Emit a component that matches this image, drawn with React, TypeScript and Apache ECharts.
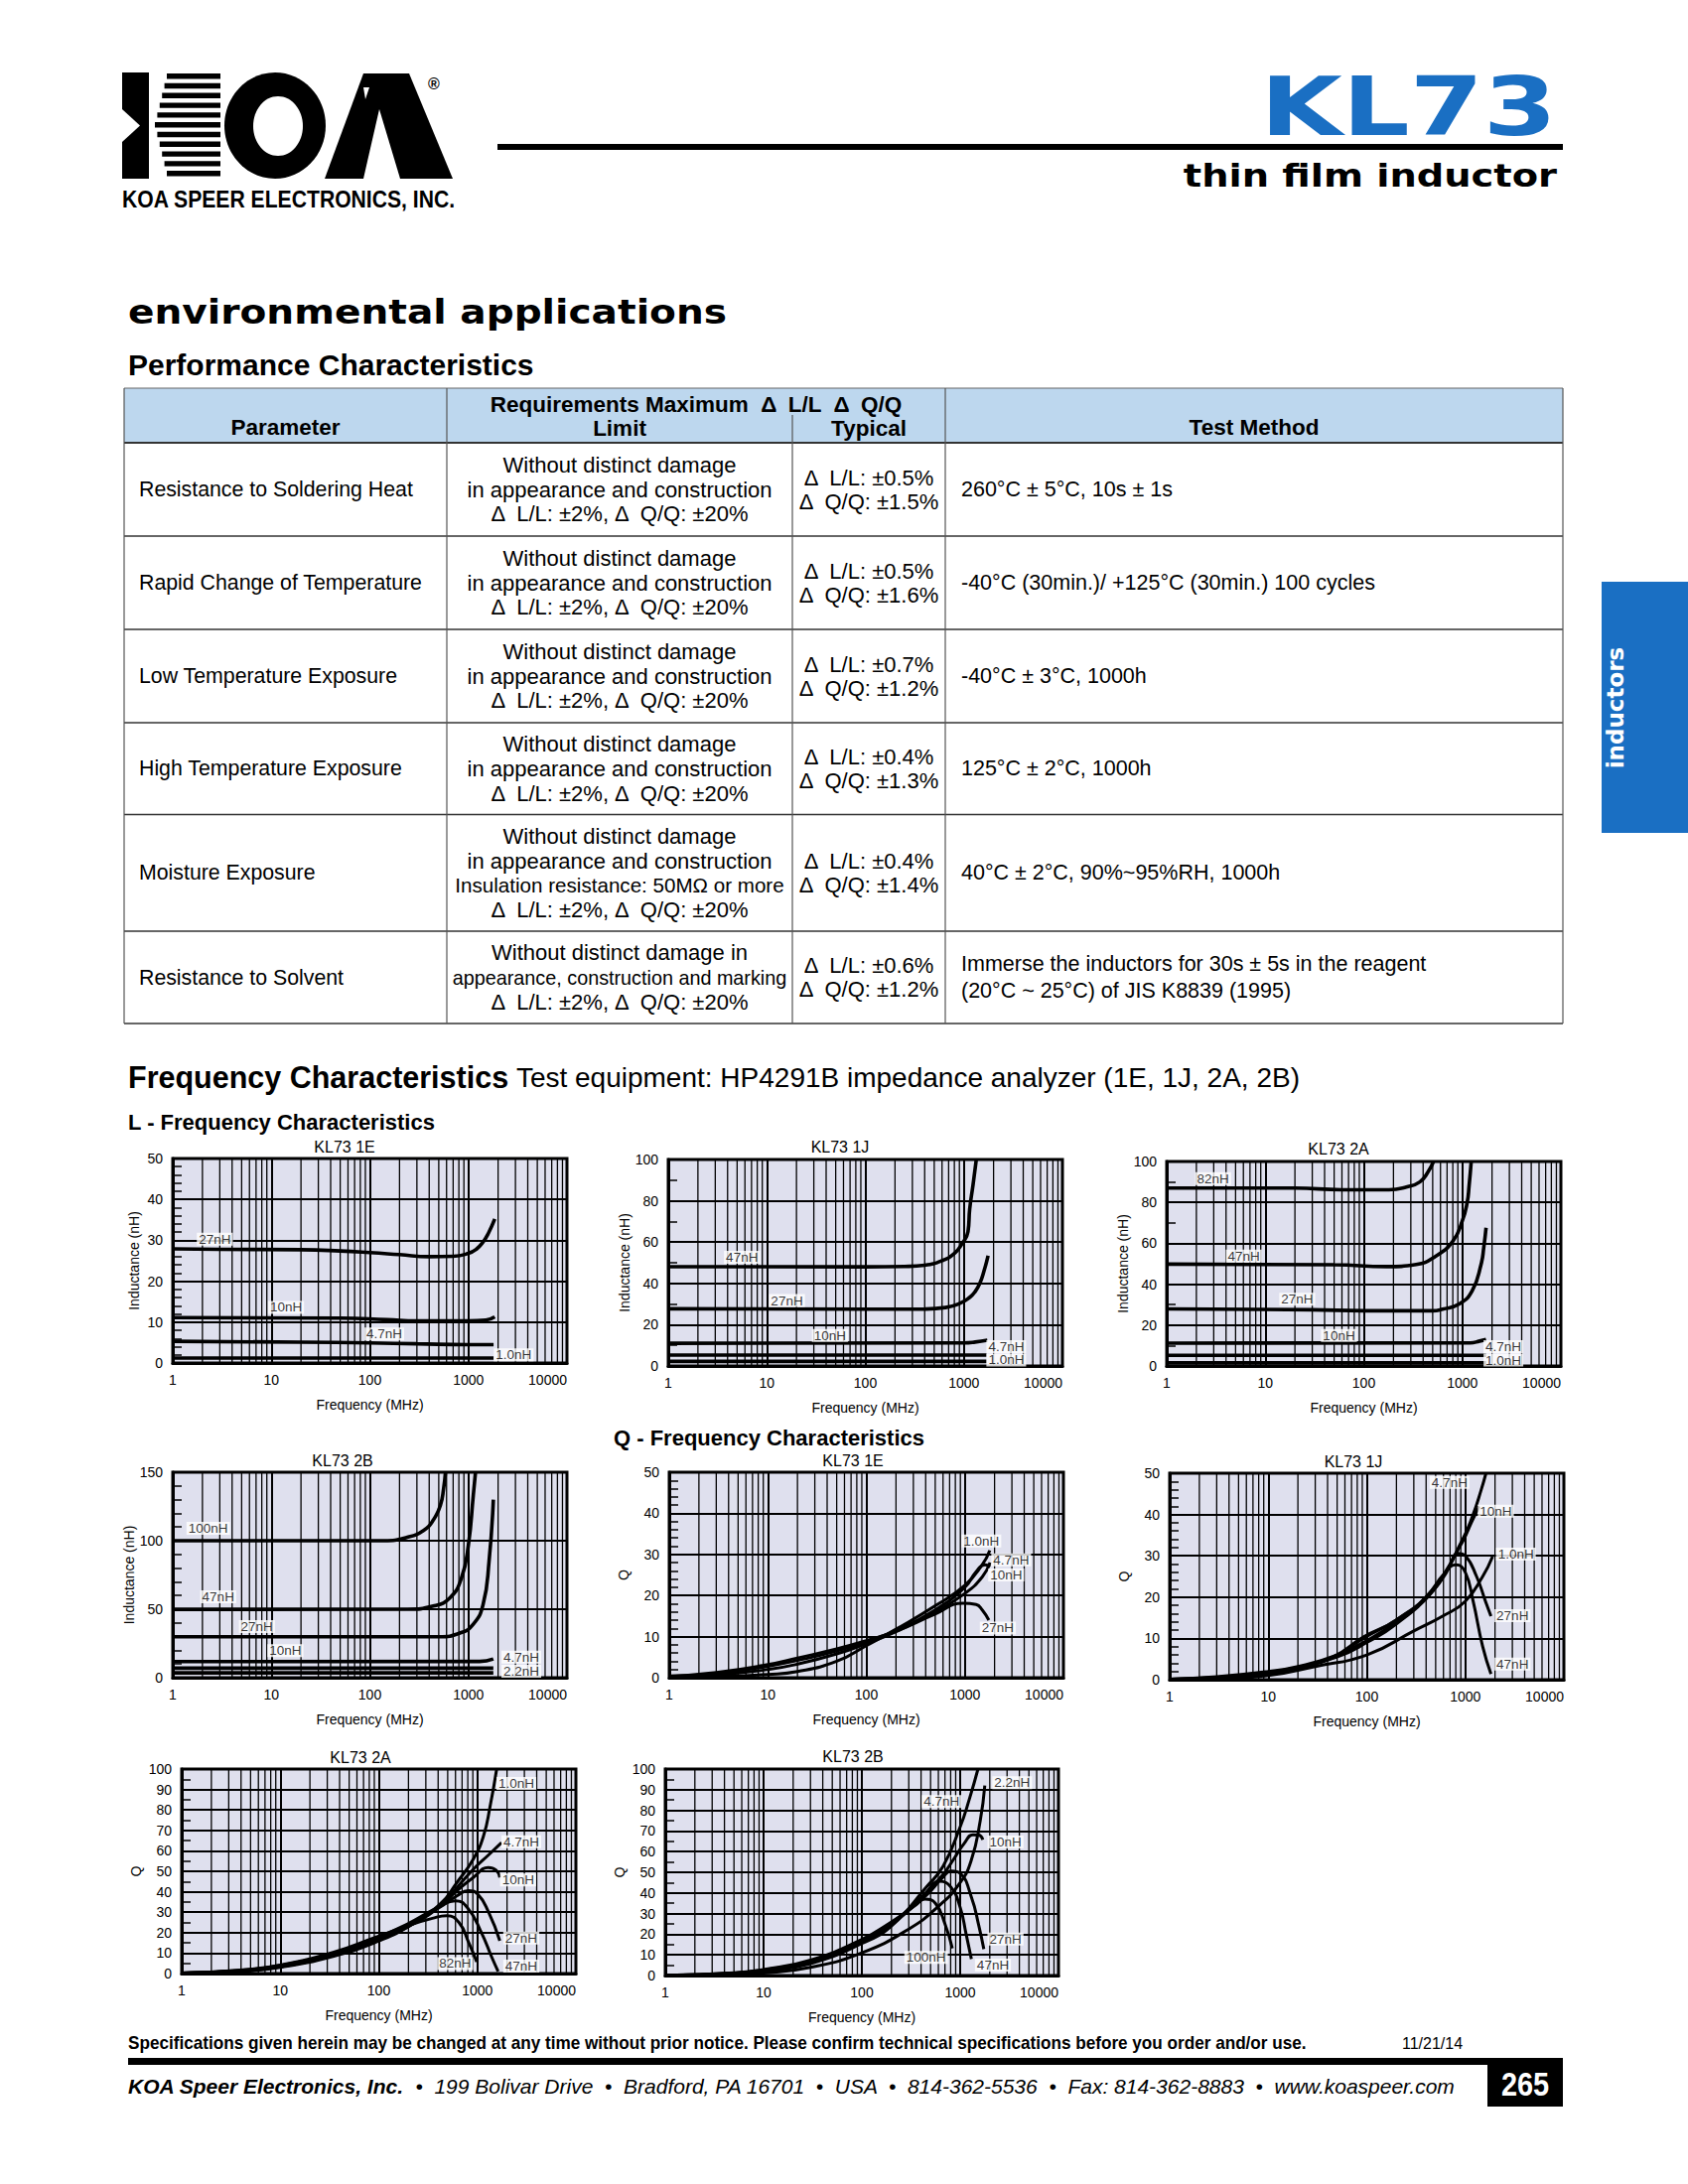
import React, { useEffect, useRef } from "react";
import * as echarts from "echarts";

const FONT = "'Liberation Sans', Arial, Helvetica, sans-serif";
const GEO = "'DejaVu Sans', Verdana, sans-serif";

// ---------- frequency axis ----------
const FREQ_MIN = 1;
const FREQ_MAX = 10000;
const MINOR_FREQS = [2, 3, 4, 5, 6, 7, 8, 9, 20, 30, 40, 50, 60, 70, 80, 90, 200, 300, 400, 500, 600, 700, 800, 900, 2000, 3000, 4000, 5000, 6000, 7000, 8000, 9000];

// ---------- L - frequency : KL73 1E ----------
const L1E_27 = [[1, 27.9], [3, 27.8], [20, 27.7], [50, 27.4], [100, 27.0], [200, 26.5], [400, 26.0], [700, 26.1], [1000, 26.8], [1200, 27.8], [1400, 29.5], [1600, 31.8], [1850, 35.2]];
const L1E_10 = [[1, 11.1], [50, 11.0], [150, 10.6], [300, 10.3], [1000, 10.3], [1500, 10.5], [1850, 11.3]];
const L1E_4_7 = [[1, 5.3], [20, 5.1], [100, 4.9], [300, 4.7], [1000, 4.5], [1800, 4.5]];
const L1E_1_0 = [[1, 1.2], [1800, 1.2]];
const L1E_LABELS = [["27nH", 2.67, 30.3], ["10nH", 14.1, 13.6], ["4.7nH", 140, 7.1], ["1.0nH", 2880, 2.0]];

// ---------- L - frequency : KL73 1J ----------
const L1J_47 = [[1, 48.1], [100, 48.0], [250, 48.2], [400, 48.8], [600, 51], [800, 54.5], [950, 59], [1100, 65], [1145, 76], [1240, 88], [1336, 100]];
const L1J_27 = [[1, 27.7], [100, 27.5], [400, 27.6], [650, 28.3], [900, 30.2], [1150, 33.3], [1300, 36], [1450, 40], [1600, 46], [1760, 53.4]];
const L1J_10 = [[1, 11.0], [1000, 11.2], [1300, 11.6], [1730, 12.5]];
const L1J_4_7 = [[1, 5.3], [1700, 5.3]];
const L1J_1_0 = [[1, 2.2], [1700, 2.2]];
const L1J_LABELS = [["47nH", 5.6, 52.6], ["27nH", 16, 31.7], ["10nH", 43.7, 14.8], ["4.7nH", 2690, 9.4], ["1.0nH", 2690, 2.9]];

// ---------- L - frequency : KL73 2A ----------
const L2A_82 = [[1, 87], [20, 87], [60, 86.2], [180, 86.2], [270, 87.5], [370, 90], [450, 95], [510, 100]];
const L2A_47 = [[1, 49.8], [50, 49.5], [170, 48.6], [340, 49.6], [540, 53.8], [800, 61], [1000, 71], [1120, 80], [1170, 88], [1230, 100]];
const L2A_27 = [[1, 27.9], [30, 27.5], [100, 27], [500, 27], [630, 27.8], [930, 30.3], [1260, 36.8], [1550, 49.8], [1650, 58], [1740, 67.6]];
const L2A_10 = [[1, 11.2], [1200, 11.3], [1500, 12.2], [1740, 13]];
const L2A_4_7 = [[1, 5.2], [1740, 5.2]];
const L2A_1_0 = [[1, 1.5], [1740, 1.5]];
const L2A_LABELS = [["82nH", 2.95, 91.6], ["47nH", 6.06, 53.8], ["27nH", 21.1, 32.7], ["10nH", 56, 14.9], ["4.7nH", 2610, 9.5], ["1.0nH", 2610, 2.9]];

// ---------- L - frequency : KL73 2B ----------
const L2B_100 = [[1, 100], [140, 100], [240, 102.5], [350, 107.5], [440, 115], [520, 126], [560, 138], [585, 150]];
const L2B_47 = [[1, 49.9], [240, 50], [440, 52.3], [650, 58.4], [850, 72.8], [1000, 97], [1120, 133], [1180, 150]];
const L2B_27 = [[1, 29.9], [500, 29.9], [820, 32.6], [1120, 39], [1410, 53.5], [1620, 85], [1790, 130]];
const L2B_10 = [[1, 11.8], [1300, 11.9], [1790, 13.7]];
const L2B_4_7 = [[1, 7.0], [1790, 7.0]];
const L2B_2_2 = [[1, 3.5], [1790, 3.5]];
const L2B_LABELS = [["100nH", 2.29, 109], ["47nH", 2.89, 59], ["27nH", 7.14, 37.4], ["10nH", 13.9, 19.8], ["4.7nH", 3440, 15], ["2.2nH", 3440, 4.8]];

// ---------- Q - frequency : KL73 1E ----------
const Q1E_1_0 = [[1, 0.1], [3, 0.3], [10, 0.8], [20, 1.5], [50, 4], [100, 7.8], [200, 11.8], [500, 17.5], [1000, 22.5], [1500, 27.5], [1790, 31]];
const Q1E_4_7 = [[1, 0.2], [3, 0.7], [10, 2], [20, 3.3], [50, 5.8], [100, 8.3], [200, 11.2], [500, 16], [1000, 20.5], [1500, 24.5], [1800, 28]];
const Q1E_10 = [[1, 0.3], [3, 1], [10, 2.8], [20, 4.2], [50, 6.5], [100, 8.8], [200, 11.5], [500, 16.5], [1000, 22], [1300, 25.8], [1600, 27.5], [1800, 27]];
const Q1E_27 = [[1, 0.4], [3, 1.3], [10, 3.2], [20, 4.8], [50, 7], [100, 9], [200, 11.3], [500, 15.5], [960, 18.1], [1300, 17.8], [1500, 16.5], [1750, 14]];
const Q1E_LABELS = [["1.0nH", 1470, 33.3], ["4.7nH", 2950, 28.7], ["10nH", 2625, 25.0], ["27nH", 2160, 12.1]];

// ---------- Q - frequency : KL73 1J ----------
const Q1J_1_0 = [[1, 0], [3, 0.3], [10, 1], [30, 3.2], [100, 6], [300, 11.8], [600, 15.5], [1000, 19], [1500, 25], [1890, 29.8]];
const Q1J_4_7 = [[1, 0.1], [3, 0.5], [10, 1.5], [20, 2.8], [46, 5.4], [92, 10], [200, 14.5], [470, 21.5], [940, 34], [1200, 40], [1450, 46], [1620, 50]];
const Q1J_10 = [[1, 0.1], [3, 0.5], [10, 1.6], [20, 3], [46, 5.6], [92, 10.3], [200, 14.5], [470, 22], [940, 33.5], [1150, 38], [1380, 42]];
const Q1J_27 = [[1, 0.1], [3, 0.6], [10, 1.8], [20, 3], [50, 5.5], [100, 9], [200, 13.5], [470, 21.5], [700, 28], [840, 30.6], [1000, 30], [1300, 25], [1600, 19], [1820, 15.4]];
const Q1J_47 = [[1, 0.1], [3, 0.7], [10, 2], [20, 3.2], [50, 6], [100, 9.5], [200, 14], [400, 20], [600, 25.5], [808, 27.8], [1000, 26], [1200, 19], [1500, 8], [1820, 1.4]];
const Q1J_LABELS = [["4.7nH", 692, 47.8], ["10nH", 2040, 40.8], ["1.0nH", 3260, 30.4], ["27nH", 3010, 15.5], ["47nH", 3010, 3.8]];

// ---------- Q - frequency : KL73 2A ----------
const Q2A_1_0 = [[1, 0], [4, 1], [10, 3], [35, 8.5], [90, 15], [200, 23], [420, 34], [620, 44.5], [910, 56], [1150, 67], [1350, 82], [1570, 100]];
const Q2A_4_7 = [[1, 0.2], [4, 1.2], [10, 3.3], [35, 9], [90, 15.5], [200, 23], [420, 33], [620, 42], [910, 51], [1300, 58], [1760, 64]];
const Q2A_10 = [[1, 0.2], [4, 1.3], [10, 3.5], [35, 9.3], [90, 16], [200, 23.5], [420, 33], [620, 40.5], [910, 47], [1290, 51.8], [1550, 50.5], [1690, 47]];
const Q2A_27 = [[1, 0.3], [4, 1.5], [10, 3.8], [35, 9.8], [90, 16.5], [200, 24], [420, 32.5], [620, 38], [813, 40.5], [1000, 39], [1300, 30], [1690, 16]];
const Q2A_47 = [[1, 0.3], [4, 1.6], [10, 4], [35, 10], [90, 17], [200, 24.5], [420, 33], [596, 35.6], [800, 32], [1100, 20], [1400, 8], [1625, 1]];
const Q2A_82 = [[1, 0.3], [4, 1.7], [10, 4.2], [35, 10.5], [90, 17.5], [200, 23.5], [350, 27], [490, 28.3], [650, 25], [820, 15], [985, 5.7]];
const Q2A_LABELS = [["1.0nH", 2490, 93], ["4.7nH", 2790, 64.4], ["10nH", 2590, 45.8], ["27nH", 2790, 17.3], ["47nH", 2790, 3.7], ["82nH", 596, 4.9]];

// ---------- Q - frequency : KL73 2B ----------
const Q2B_2_2 = [[1, 0], [5, 0.4], [10, 1.2], [30, 4], [100, 11], [300, 22.5], [600, 33.5], [1000, 45], [1300, 56], [1600, 75], [1780, 92]];
const Q2B_4_7 = [[1, 0], [5, 0.8], [10, 2], [30, 5.8], [100, 15.5], [200, 24], [456, 43], [672, 53], [1000, 72], [1250, 86], [1517, 100]];
const Q2B_10 = [[1, 0.1], [5, 1], [10, 2.3], [30, 6.3], [100, 16], [200, 24.5], [456, 40.5], [672, 49], [850, 56], [1100, 64], [1350, 68.2], [1550, 68], [1700, 65.8]];
const Q2B_27 = [[1, 0.1], [5, 1.1], [10, 2.5], [30, 6.7], [100, 16.5], [200, 25], [456, 39], [650, 47], [815, 50.6], [1000, 49.5], [1300, 38], [1550, 24], [1740, 12.8]];
const Q2B_47 = [[1, 0.1], [5, 1.2], [10, 2.7], [30, 7], [100, 17], [200, 25.5], [400, 37], [623, 45.7], [800, 43], [1000, 33], [1150, 20], [1300, 8]];
const Q2B_100 = [[1, 0.1], [5, 1.3], [10, 2.9], [30, 7.5], [100, 17.5], [200, 26], [350, 34], [440, 37], [560, 35], [700, 25], [832, 13.2]];
const Q2B_LABELS = [["2.2nH", 3380, 93.4], ["4.7nH", 648, 84.3], ["10nH", 2890, 64.7], ["27nH", 2890, 17.7], ["47nH", 2155, 5.1], ["100nH", 450, 8.8]];

// ---------- table ----------
const TABLE_HEAD = ["Parameter", "Requirements Maximum  Δ\u2002L/L  Δ\u2002Q/Q", "Limit", "Typical", "Test Method"];
const LIMIT_STD = ["Without distinct damage", "in appearance and construction", "Δ\u2002L/L: ±2%, Δ\u2002Q/Q: ±20%"];
const PARAMS = ["Resistance to Soldering Heat", "Rapid Change of Temperature", "Low Temperature Exposure", "High Temperature Exposure", "Moisture Exposure", "Resistance to Solvent"];
const LIMITS = [
  LIMIT_STD, LIMIT_STD, LIMIT_STD, LIMIT_STD,
  ["Without distinct damage", "in appearance and construction", "Insulation resistance: 50MΩ or more", "Δ\u2002L/L: ±2%, Δ\u2002Q/Q: ±20%"],
  ["Without distinct damage in", "appearance, construction and marking", "Δ\u2002L/L: ±2%, Δ\u2002Q/Q: ±20%"],
];
const TYPICAL = [
  ["Δ\u2002L/L: ±0.5%", "Δ\u2002Q/Q: ±1.5%"],
  ["Δ\u2002L/L: ±0.5%", "Δ\u2002Q/Q: ±1.6%"],
  ["Δ\u2002L/L: ±0.7%", "Δ\u2002Q/Q: ±1.2%"],
  ["Δ\u2002L/L: ±0.4%", "Δ\u2002Q/Q: ±1.3%"],
  ["Δ\u2002L/L: ±0.4%", "Δ\u2002Q/Q: ±1.4%"],
  ["Δ\u2002L/L: ±0.6%", "Δ\u2002Q/Q: ±1.2%"],
];
const METHODS = [
  ["260°C ± 5°C, 10s ± 1s"],
  ["-40°C (30min.)/ +125°C (30min.) 100 cycles"],
  ["-40°C ± 3°C, 1000h"],
  ["125°C ± 2°C, 1000h"],
  ["40°C ± 2°C, 90%~95%RH, 1000h"],
  ["Immerse the inductors for 30s ± 5s in the reagent", "(20°C ~ 25°C) of JIS K8839 (1995)"],
];

// ---------- chart specs ----------
const CHARTS = [
  { title: "KL73 1E", yName: "Inductance (nH)", yMax: 50, yStep: 10, yMinor: 5, lw: 3.6, curves: [L1E_27, L1E_10, L1E_4_7, L1E_1_0], labels: L1E_LABELS },
  { title: "KL73 1J", yName: "Inductance (nH)", yMax: 100, yStep: 20, yMinor: 2, lw: 3.6, curves: [L1J_47, L1J_27, L1J_10, L1J_4_7, L1J_1_0], labels: L1J_LABELS },
  { title: "KL73 2A", yName: "Inductance (nH)", yMax: 100, yStep: 20, yMinor: 2, lw: 3.6, curves: [L2A_82, L2A_47, L2A_27, L2A_10, L2A_4_7, L2A_1_0], labels: L2A_LABELS },
  { title: "KL73 2B", yName: "Inductance (nH)", yMax: 150, yStep: 50, yMinor: 5, lw: 3.6, curves: [L2B_100, L2B_47, L2B_27, L2B_10, L2B_4_7, L2B_2_2], labels: L2B_LABELS },
  { title: "KL73 1E", yName: "Q", yMax: 50, yStep: 10, yMinor: 5, lw: 3, curves: [Q1E_1_0, Q1E_4_7, Q1E_10, Q1E_27], labels: Q1E_LABELS },
  { title: "KL73 1J", yName: "Q", yMax: 50, yStep: 10, yMinor: 5, lw: 3, curves: [Q1J_1_0, Q1J_4_7, Q1J_10, Q1J_27, Q1J_47], labels: Q1J_LABELS },
  { title: "KL73 2A", yName: "Q", yMax: 100, yStep: 10, yMinor: 2, lw: 3, curves: [Q2A_1_0, Q2A_4_7, Q2A_10, Q2A_27, Q2A_47, Q2A_82], labels: Q2A_LABELS },
  { title: "KL73 2B", yName: "Q", yMax: 100, yStep: 10, yMinor: 2, lw: 3, curves: [Q2B_2_2, Q2B_4_7, Q2B_10, Q2B_27, Q2B_47, Q2B_100], labels: Q2B_LABELS },
];

// ---------- layout (pixels) ----------
const LAYOUT = [
  { left: 174, top: 1167, width: 397, height: 206, tx: 347, ty: 1155, gap: 32 },
  { left: 673, top: 1168, width: 397, height: 208, tx: 846, ty: 1155, gap: 32 },
  { left: 1175, top: 1170, width: 397, height: 206, tx: 1348, ty: 1157, gap: 32 },
  { left: 174, top: 1483, width: 397, height: 207, tx: 345, ty: 1471, gap: 32 },
  { left: 674, top: 1483, width: 397, height: 207, tx: 859, ty: 1471, gap: 39 },
  { left: 1178, top: 1484, width: 397, height: 208, tx: 1363, ty: 1472, gap: 39 },
  { left: 183, top: 1782, width: 397, height: 206, tx: 363, ty: 1770, gap: 39 },
  { left: 670, top: 1782, width: 396, height: 208, tx: 859, ty: 1769, gap: 39 },
];

const ROW_EDGES = [446, 540, 634, 728, 820.5, 938, 1031];
const COL_EDGES = [125, 450, 798, 952, 1574];
const TABLE_TOP = 391;
const BLUE = "#1a6fc3";

function T(x: number, y: number, text: string, o: any = {}) {
  const align = o.align || "left";
  const va = o.va || "middle";
  const style: any = {
    text,
    fill: o.color || "#000",
    fontSize: o.size || 21,
    fontFamily: o.family || FONT,
    fontWeight: o.weight || "normal",
    fontStyle: o.fstyle || "normal",
    align,
    verticalAlign: va,
    textAlign: align,
    textVerticalAlign: va,
  };
  if (o.rich) style.rich = o.rich;
  return { type: "text", x, y, rotation: o.rotation || 0, scaleX: o.sx || 1, scaleY: o.sy || 1, z: 10, silent: true, style };
}
function R(x: number, y: number, w: number, h: number, fill: string) {
  return { type: "rect", shape: { x, y, width: w, height: h }, style: { fill }, z: 5, silent: true };
}
function Ln(x1: number, y1: number, x2: number, y2: number, stroke = "#333", w = 1.3) {
  return { type: "line", shape: { x1, y1, x2, y2 }, style: { stroke, lineWidth: w }, z: 6, silent: true };
}

function buildGraphics() {
  const g: any[] = [];
  // ---- logo ----
  g.push({ type: "polygon", shape: { points: [[123, 73], [150, 73], [150, 180], [123, 180]] }, style: { fill: "#000" }, z: 5, silent: true });
  g.push({ type: "polygon", shape: { points: [[123, 110], [141, 126.5], [123, 143]] }, style: { fill: "#fff" }, z: 6, silent: true });
  for (let i = 0; i < 11; i++) {
    const y = 74 + i * 9.8;
    const d = Math.abs(i - 5) / 5;
    const x0 = 156 + 12 * d;
    g.push(R(x0, y, 222 - x0, 5.4, "#000"));
  }
  g.push({ type: "ellipse", shape: { cx: 277, cy: 126.5, rx: 51, ry: 53.5 }, style: { fill: "#000" }, z: 5, silent: true });
  g.push({ type: "ellipse", shape: { cx: 280, cy: 127, rx: 25, ry: 30 }, style: { fill: "#fff" }, z: 6, silent: true });
  g.push({ type: "polygon", shape: { points: [[327, 180], [366, 74], [412, 74], [456, 180]] }, style: { fill: "#000" }, z: 5, silent: true });
  g.push({ type: "polygon", shape: { points: [[366, 180], [382, 110], [403, 180]] }, style: { fill: "#fff" }, z: 6, silent: true });
  g.push({ type: "polygon", shape: { points: [[366, 88], [372, 88], [368, 100]] }, style: { fill: "#fff" }, z: 6, silent: true });
  g.push(T(437, 84, "®", { size: 16, weight: "bold", align: "center" }));
  g.push(T(123, 201, "KOA SPEER ELECTRONICS, INC.", { size: 23, weight: "bold", sx: 0.92 }));
  // ---- title block ----
  g.push(R(501, 145, 1073, 6, "#000"));
  g.push(T(1568, 108, "KL73", { size: 82, weight: "bold", family: GEO, color: BLUE, align: "right", sx: 1.3 }));
  g.push(T(1568, 177, "thin film inductor", { size: 32, weight: "bold", family: GEO, align: "right", sx: 1.2 }));
  g.push(T(129, 314, "environmental applications", { size: 34, weight: "bold", family: GEO, sx: 1.15 }));
  g.push(T(129, 367, "Performance Characteristics", { size: 30, weight: "bold" }));
  // ---- side tab ----
  g.push(R(1613, 586, 87, 253, BLUE));
  g.push(T(1627, 713, "inductors", { size: 23, weight: "bold", family: GEO, color: "#fff", align: "center", rotation: Math.PI / 2 }));
  // ---- table ----
  g.push(R(COL_EDGES[0], TABLE_TOP, COL_EDGES[4] - COL_EDGES[0], ROW_EDGES[0] - TABLE_TOP, "#bdd7ee"));
  g.push(Ln(COL_EDGES[0], TABLE_TOP, COL_EDGES[4], TABLE_TOP, "#666", 1.2));
  ROW_EDGES.forEach((y, i) => g.push(Ln(COL_EDGES[0], y, COL_EDGES[4], y, "#333", i === 0 ? 1.8 : 1.3)));
  [0, 1, 3, 4].forEach((ci) => g.push(Ln(COL_EDGES[ci], TABLE_TOP, COL_EDGES[ci], ROW_EDGES[6], "#555", 1.2)));
  g.push(Ln(COL_EDGES[2], 418, COL_EDGES[2], ROW_EDGES[6], "#555", 1.2));
  const c1 = (COL_EDGES[0] + COL_EDGES[1]) / 2;
  const c2 = (COL_EDGES[1] + COL_EDGES[2]) / 2;
  const c3 = (COL_EDGES[2] + COL_EDGES[3]) / 2;
  const c4 = (COL_EDGES[3] + COL_EDGES[4]) / 2;
  const hb = { size: 22.5, weight: "bold", align: "center" };
  g.push(T(c1, 430, TABLE_HEAD[0], hb));
  g.push(T((COL_EDGES[1] + COL_EDGES[3]) / 2, 407, TABLE_HEAD[1], hb));
  g.push(T(c2, 431, TABLE_HEAD[2], hb));
  g.push(T(c3, 431, TABLE_HEAD[3], hb));
  g.push(T(c4, 430, TABLE_HEAD[4], hb));
  for (let r = 0; r < PARAMS.length; r++) {
    const cy = (ROW_EDGES[r] + ROW_EDGES[r + 1]) / 2;
    g.push(T(140, cy, PARAMS[r], { size: 21.3 }));
    const lim = LIMITS[r];
    const step = lim.length > 3 ? 24.5 : 24.8;
    lim.forEach((s, k) => {
      const y = cy + (k - (lim.length - 1) / 2) * step;
      const size = s.length > 35 ? 19.8 : s.length > 33 ? 20.6 : 22;
      g.push(T(c2, y, s, { size, align: "center" }));
    });
    TYPICAL[r].forEach((s, k) => g.push(T(c3, cy + (k - 0.5) * 24, s, { size: 22, align: "center" })));
    const m = METHODS[r];
    m.forEach((s, k) => g.push(T(968, cy + (k - (m.length - 1) / 2) * 26.5, s, { size: 21.5 })));
  }
  // ---- section headings ----
  const fc = T(129, 1085, "", {
    size: 28,
    rich: {
      b: { fontSize: 30.5, fontWeight: "bold", fontFamily: FONT, fill: "#000" },
      n: { fontSize: 28, fontWeight: "normal", fontFamily: FONT, fill: "#000" },
    },
  });
  fc.style.text = "{b|Frequency Characteristics} {n|Test equipment: HP4291B impedance analyzer (1E, 1J, 2A, 2B)}";
  g.push(fc);
  g.push(T(129, 1130, "L - Frequency Characteristics", { size: 22, weight: "bold" }));
  g.push(T(618, 1448, "Q - Frequency Characteristics", { size: 22, weight: "bold" }));
  // ---- chart titles ----
  CHARTS.forEach((c, i) => g.push(T(LAYOUT[i].tx, LAYOUT[i].ty, c.title, { size: 16, align: "center" })));
  // ---- footer ----
  g.push(T(129, 2058, "Specifications given herein may be changed at any time without prior notice. Please confirm technical specifications before you order and/or use.", { size: 17.5, weight: "bold", sx: 0.98 }));
  g.push(T(1412, 2058, "11/21/14", { size: 16 }));
  g.push(R(129, 2073, 1445, 7, "#000"));
  g.push(R(1498, 2073, 76, 49, "#000"));
  g.push(T(1536, 2099, "265", { size: 34, weight: "bold", color: "#fff", align: "center", sx: 0.85 }));
  const addr = T(129, 2101, "", {
    size: 21,
    fstyle: "italic",
    rich: { b: { fontSize: 21, fontWeight: "bold", fontStyle: "italic", fontFamily: FONT, fill: "#000" } },
  });
  addr.style.text = "{b|KOA Speer Electronics, Inc.}  •  199 Bolivar Drive  •  Bradford, PA 16701  •  USA  •  814-362-5536  •  Fax: 814-362-8883  •  www.koaspeer.com";
  g.push(addr);
  return g;
}

function buildOption() {
  const grid: any[] = [];
  const xAxis: any[] = [];
  const yAxis: any[] = [];
  const series: any[] = [];
  CHARTS.forEach((c, i) => {
    const L = LAYOUT[i];
    grid.push({ left: L.left, top: L.top, width: L.width, height: L.height, show: true, backgroundColor: "#dfe0ee", borderColor: "#000", borderWidth: 3 });
    xAxis.push({
      type: "log", logBase: 10, min: FREQ_MIN, max: FREQ_MAX, gridIndex: i,
      axisLine: { show: true, lineStyle: { color: "#000", width: 3 } },
      axisTick: { show: false },
      splitLine: { show: true, lineStyle: { color: "#000", width: 2 } },
      axisLabel: { color: "#000", fontSize: 14, fontFamily: FONT, margin: 10, alignMaxLabel: "right", formatter: (v: number) => String(Math.round(v)) },
      name: "Frequency (MHz)", nameLocation: "middle", nameGap: 35,
      nameTextStyle: { color: "#000", fontSize: 14, fontFamily: FONT },
    });
    yAxis.push({
      type: "value", min: 0, max: c.yMax, interval: c.yStep, gridIndex: i,
      axisLine: { show: true, lineStyle: { color: "#000", width: 3 } },
      axisTick: { show: true, inside: true, length: 9, lineStyle: { color: "#000", width: 1.5 } },
      minorTick: { show: true, splitNumber: c.yMinor, length: 9, lineStyle: { color: "#000", width: 1.5 } },
      splitLine: { show: true, lineStyle: { color: "#000", width: 2 } },
      axisLabel: { color: "#000", fontSize: 14, fontFamily: FONT, margin: 10 },
      name: c.yName, nameLocation: "middle", nameGap: L.gap, nameRotate: 90,
      nameTextStyle: { color: "#000", fontSize: 14, fontFamily: FONT },
    });
    series.push({
      type: "custom", xAxisIndex: i, yAxisIndex: i, silent: true, z: 1,
      data: MINOR_FREQS.map((f) => [f, 0]),
      renderItem: (params: any, api: any) => {
        const cs = params.coordSys;
        const px = api.coord([api.value(0), api.value(1)])[0];
        return { type: "line", shape: { x1: px, y1: cs.y, x2: px, y2: cs.y + cs.height }, style: { stroke: "#000", lineWidth: 1.3 } };
      },
    });
    c.curves.forEach((d) => {
      series.push({
        type: "line", xAxisIndex: i, yAxisIndex: i, data: d, symbol: "none", showSymbol: false,
        smooth: 0.5, silent: true, z: 3,
        lineStyle: { color: "#000", width: c.lw },
      });
    });
    series.push({
      type: "scatter", xAxisIndex: i, yAxisIndex: i, silent: true, z: 6,
      data: c.labels.map((l) => [l[1], l[2], l[0]]),
      symbolSize: 1, itemStyle: { color: "rgba(0,0,0,0)" },
      label: {
        show: true, position: "inside", formatter: (p: any) => p.data[2],
        backgroundColor: "#fff", padding: [0, 2], lineHeight: 13, color: "#000", fontSize: 13.5, fontFamily: FONT,
      },
    });
  });
  return { animation: false, backgroundColor: "#fff", grid, xAxis, yAxis, series, graphic: { elements: buildGraphics() } };
}

export default function App() {
  const ref = useRef<HTMLDivElement>(null);
  useEffect(() => {
    if (!ref.current) return;
    const chart = echarts.init(ref.current, undefined, { renderer: "svg", width: 1700, height: 2200 });
    chart.setOption(buildOption() as any);
    return () => chart.dispose();
  }, []);
  return <div ref={ref} style={{ position: "absolute", left: 0, top: 0, width: 1700, height: 2200 }} />;
}
